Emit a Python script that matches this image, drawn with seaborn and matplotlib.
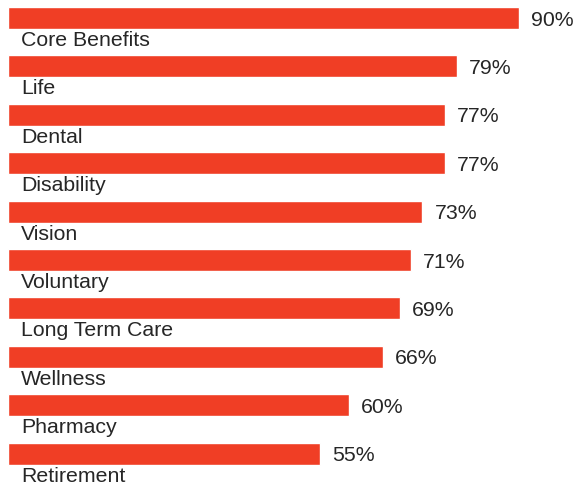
import matplotlib
matplotlib.use("Agg")
import matplotlib.pyplot as plt
import seaborn as sns
import pandas as pd

categories = ["Core Benefits", "Life", "Dental", "Disability", "Vision", "Voluntary",
              "Long Term Care", "Wellness", "Pharmacy", "Retirement"]
values = [90, 79, 77, 77, 73, 71, 69, 66, 60, 55]

df = pd.DataFrame({"category": categories, "value": values})

sns.set_theme(style="white")
plt.rcParams["font.family"] = ["Liberation Sans", "DejaVu Sans"]

fig = plt.figure(figsize=(5.88, 4.92), dpi=100)
ax = fig.add_axes([8 / 588, 0, 580 / 588, 1])

bar_color = "#f03e25"
sns.barplot(data=df, x="value", y="category", orient="h", color=bar_color,
            width=0.455, saturation=1, ax=ax)

ax.set_xlim(0, 580 / 511 * 90)
ax.set_ylim(9.793, -0.372)
ax.axis("off")

text_color = "#262626"
for i, (cat, val) in enumerate(zip(categories, values)):
    ax.annotate(cat, xy=(0, i + 0.2275), xytext=(13, -2), textcoords="offset pixels",
                ha="left", va="top", fontsize=15.3, color=text_color)
    ax.annotate(f"{val}%", xy=(val, i), xytext=(12, -2), textcoords="offset pixels",
                ha="left", va="center", fontsize=15.3, color=text_color)

fig.savefig("out.png", dpi=100)
